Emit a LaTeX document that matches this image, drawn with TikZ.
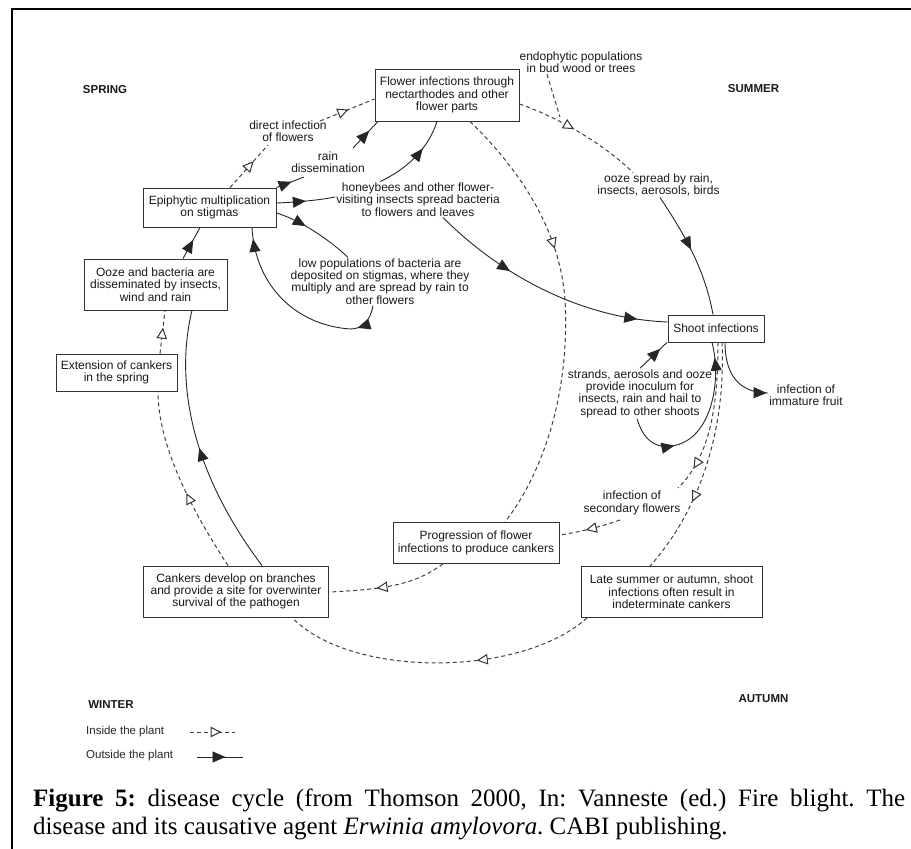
\documentclass[tikz,border=0pt]{standalone}
\usepackage{fontspec}
\setmainfont{Liberation Serif}
\newfontfamily\diagfont{Liberation Sans}
\usetikzlibrary{arrows.meta,decorations.markings,calc}

\tikzset{
  box/.style={draw=black!80, line width=0.9pt, fill=white, align=center,
    inner sep=0pt, text=black!90, font=\diagfont\fontsize{12}{12.3}\selectfont},
  lbl/.style={align=center, inner sep=1pt, text=black!90,
    font=\diagfont\fontsize{12}{12.3}\selectfont},
  season/.style={inner sep=0pt, text=black!90,
    font=\diagfont\bfseries\fontsize{11.5}{12}\selectfont},
  legtext/.style={anchor=west, inner sep=0pt, text=black!85,
    font=\diagfont\fontsize{11.5}{12}\selectfont},
  outside/.style={draw=black!85, line width=0.9pt},
  inside/.style={draw=black!75, line width=1pt, dash pattern=on 4pt off 3pt},
  fa/.style={postaction={decorate, decoration={markings,
    mark=at position #1 with {\arrow{Triangle[length=13pt,width=11pt]}}}}},
  oa/.style={postaction={decorate, decoration={markings,
    mark=at position #1 with {\arrow[black!80]{Triangle[open,fill=white,length=11pt,width=10.5pt,line width=1pt]}}}}},
}

\begin{document}
\begin{tikzpicture}[x=1pt,y=-1pt]
\useasboundingbox (0,0) rectangle (911,849);

% frame
\draw[line width=2pt] (12,849) -- (12,9) -- (911,9);

% seasons
\node[season] (spring) at (105,90) {SPRING};
\node[season] (summer) at (753.5,89) {SUMMER};
\node[season] (winter) at (111,705) {WINTER};
\node[season] (autumn) at (763.5,699) {AUTUMN};

% boxes
\node[box, minimum width=144pt, minimum height=52pt] (flower) at (447,95)
  {Flower infections through\\nectarthodes and other\\flower parts};
\node[box, minimum width=133pt, minimum height=39pt] (epi) at (209.5,207.5)
  {Epiphytic multiplication\\on stigmas};
\node[box, minimum width=143pt, minimum height=51pt] (ooze) at (155.5,284.5)
  {Ooze and bacteria are\\disseminated by insects,\\wind and rain};
\node[box, minimum width=121pt, minimum height=37pt] (ext) at (116.5,372.5)
  {Extension of cankers\\in the spring};
\node[box, minimum width=96pt, minimum height=27pt] (shoot) at (716,328.5)
  {Shoot infections};
\node[box, minimum width=166pt, minimum height=41pt] (prog) at (476,543)
  {Progression of flower\\infections to produce cankers};
\node[box, minimum width=185pt, minimum height=51pt] (cank) at (236,591.5)
  {Cankers develop on branches\\and provide a site for overwinter\\survival of the pathogen};
\node[box, minimum width=181pt, minimum height=51pt] (late) at (671.5,592)
  {Late summer or autumn, shoot\\infections often result in\\indeterminate cankers};

% free labels
\node[lbl] (endo) at (581,62.5) {endophytic populations\\in bud wood or trees};
\node[lbl] (direct) at (288,131.5) {direct infection\\of flowers};
\node[lbl] (rain) at (328,162) {rain\\dissemination};
\node[lbl] (honey) at (418,199.5) {honeybees and other flower-\\visiting insects spread bacteria\\to flowers and leaves};
\node[lbl] (lowpop) at (380,281.5) {low populations of bacteria are\\deposited on stigmas, where they\\multiply and are spread by rain to\\other flowers};
\node[lbl] (oozesp) at (658.5,185) {ooze spread by rain,\\insects, aerosols, birds};
\node[lbl] (strands) at (640,393.5) {strands, aerosols and ooze\\provide inoculum for\\insects, rain and hail to\\spread to other shoots};
\node[lbl] (fruit) at (806,395.5) {infection of\\immature fruit};
\node[lbl] (second) at (632,503) {infection of\\secondary flowers};

% ---- inside the plant (dashed, open triangles)
\draw[inside, oa=0.62] (epi.north -| 230,0) -- (268,145);
\draw[inside, oa=0.52] (320,121) -- (flower.west |- 0,99);
\draw[inside, oa=0.45] (flower.east |- 0,104) .. controls (560,118) and (605,145) .. (oozesp.north -| 633,0);
\coordinate (endojoin) at (560,117);
\draw[inside] (endo.south -| 547,0) -- (endojoin);
\draw[inside, oa=0.35] (flower.south -| 470,0) .. controls (520,170) and (560,230) .. (565,300)
   .. controls (570,390) and (545,470) .. (prog.north -| 505,0);
\draw[inside, oa=0.84] (shoot.south -| 718,0) .. controls (718,400) and (712,455) .. (678,488);
\draw[inside, oa=0.57] (620,520) .. controls (600,527) and (580,532) .. (prog.east |- 0,535);
\draw[inside, oa=0.68] (shoot.south -| 722,0) .. controls (726,430) and (700,510) .. (late.north -| 650,0);
\draw[inside, oa=0.6] (prog.south -| 443,0) .. controls (420,580) and (400,589) .. (cank.east |- 0,592);
\draw[inside, oa=0.38] (late.south -| 587,0) .. controls (520,678) and (350,678) .. (cank.south -| 292,0);
\draw[inside, oa=0.44] (cank.north -| 228,0) .. controls (185,500) and (158,440) .. (ext.south -| 158,0);
\draw[inside, oa=0.6] (ext.north -| 160,0) -- (ooze.south -| 165,0);

% ---- outside the plant (solid, filled triangles)
\draw[outside, fa=0.49] (cank.north -| 262,0) .. controls (190,470) and (175,380) .. (ooze.south -| 192,0);
\draw[outside, fa=0.6] (ooze.north -| 183,0) -- (epi.south -| 200,0);
\draw[outside, fa=0.55] (epi.north east) -- (304,177);
\draw[outside, fa=0.65] (353,148) -- (flower.south -| 378,0);
\draw[outside, fa=0.5] (epi.east |- 0,203) .. controls (300,202) and (320,200) .. (honey.west |- 0,197);
\draw[outside, fa=0.64] (honey.north -| 380,0) .. controls (405,170) and (428,150) .. (flower.south -| 437,0);
\draw[outside, fa=0.34, fa=0.88] (honey.south -| 443,0) .. controls (490,265) and (570,318) .. (shoot.west |- 0,322);
\draw[outside, fa=0.38] (epi.east |- 0,213) .. controls (300,220) and (330,240) .. (lowpop.north -| 348,0);
\draw[outside, fa=0.15, fa=0.94] (lowpop.south -| 373,0) .. controls (370,322) and (362,329) .. (350,329)
   .. controls (295,325) and (255,285) .. (epi.south -| 252,0);
\draw[outside, fa=0.47] (oozesp.south -| 660,0) .. controls (685,235) and (705,270) .. (shoot.north -| 713,0);
\draw[outside, fa=0.75] (strands.north -| 640,0) -- (shoot.south -| 667,0);
\draw[outside, fa=0.3, fa=0.91] (strands.south -| 637,0) .. controls (645,445) and (660,448) .. (672,446)
   .. controls (712,440) and (722,380) .. (shoot.south -| 712,0);
\draw[outside, fa=0.98] (shoot.south -| 725,0) .. controls (725,378) and (742,393) .. (fruit.west |- 0,393);

% legend
\node[legtext] (leginside) at (86,732) {Inside the plant};
\node[legtext] (legoutside) at (86,756) {Outside the plant};
\coordinate (li1) at (190,732);
\coordinate (li2) at (235,732);
\coordinate (lo1) at (197,757);
\coordinate (lo2) at (243,757);
\draw[inside, oa=0.7] (li1) -- (li2);
\draw[outside, fa=0.62] (lo1) -- (lo2);

% caption
\node[anchor=base west, inner sep=0pt, font=\frenchspacing\fontsize{25}{28}\selectfont] (cap1) at (33,806)
  {\makebox[872pt][s]{\textbf{Figure 5:} disease cycle (from Thomson 2000, In: Vanneste (ed.) Fire blight. The}};
\node[anchor=base west, inner sep=0pt, font=\frenchspacing\fontsize{25}{28}\selectfont] (cap2) at (33,834)
  {disease and its causative agent \textit{Erwinia amylovora}. CABI publishing.};
\end{tikzpicture}
\end{document}
